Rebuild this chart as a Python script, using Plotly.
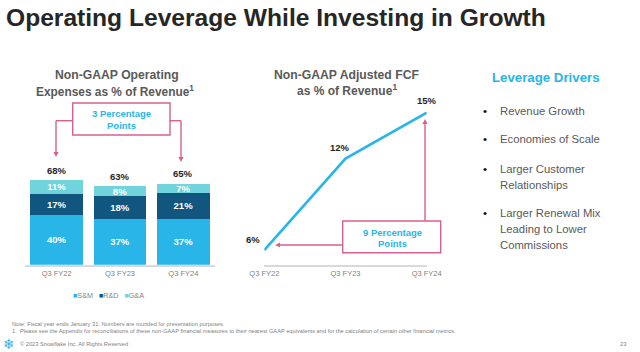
import plotly.graph_objects as go

quarters = ["Q3 FY22", "Q3 FY23", "Q3 FY24"]
snm = [40, 37, 37]
rnd = [17, 18, 21]
gna = [11, 8, 7]
opex_totals = [68, 63, 65]
fcf = [6, 12, 15]
drivers = [
    ("Revenue Growth", 111, True), ("Economies of Scale", 139.5, True),
    ("Larger Customer", 168.5, True), ("Relationships", 185, False),
    ("Larger Renewal Mix", 213, True), ("Leading to Lower", 229, False), ("Commissions", 245, False),
]

W, H = 640, 352
FONT = "Liberation Sans"
PINK = "#d6608f"
SKY = "#29b5e8"
NAVY = "#11567f"
TEAL = "#71d3dc"
GREY = "#595959"

def px(x): return x / W
def py(y): return 1 - y / H

fig = go.Figure()
for name, vals, col in [("S&M", snm, SKY), ("R&D", rnd, NAVY), ("G&A", gna, TEAL)]:
    fig.add_trace(go.Bar(x=quarters, y=vals, name=name, marker=dict(color=col, line=dict(width=0)),
                         text=[f"{v}%" for v in vals], textposition="inside", insidetextanchor="middle",
                         textangle=0, constraintext="none",
                         insidetextfont=dict(family=FONT, size=9.5, color="white", weight="bold"),
                         hoverinfo="skip", xaxis="x", yaxis="y"))
fig.add_trace(go.Scatter(x=quarters, y=fcf, mode="lines", line=dict(color=SKY, width=2.6),
                         hoverinfo="skip", xaxis="x2", yaxis="y2", showlegend=False))

ann = []
def T(x, y, text, size, color=GREY, bold=False, align="center", family=FONT):
    anchor = {"center": "center", "left": "left", "right": "right"}[align]
    ann.append(dict(x=px(x), y=py(y), xref="paper", yref="paper", text=text, showarrow=False,
                    xanchor=anchor, yanchor="middle", align=align,
                    font=dict(family=family, size=size, color=color, weight="bold" if bold else "normal")))

T(3.5, 17, "Operating Leverage While Investing in Growth", 24.6, "#262626", True, "left")
T(116.7, 75, "Non-GAAP Operating", 12.2, GREY, True)
T(115, 91, "Expenses as % of Revenue<sup>1</sup>", 11.9, GREY, True)
T(346.5, 75, "Non-GAAP Adjusted FCF", 12.2, GREY, True)
T(346.5, 90, "as % of Revenue<sup>1</sup>", 12, GREY, True)
T(546, 78, "Leverage Drivers", 13.25, SKY, True)
for text, y, bullet in drivers:
    T(497.5, y, text, 11.3, GREY, False, "left")
    if bullet:
        T(485, y, "•", 11.5, "#111111", False)

T(121, 113.5, "3 Percentage", 9.5, SKY, True)
T(121, 125, "Points", 9.5, SKY, True)
T(392, 232, "9 Percentage", 9.5, SKY, True)
T(392, 243, "Points", 9.5, SKY, True)

for q, v in zip(quarters, opex_totals):
    ann.append(dict(x=q, y=v, xref="x", yref="y", text=f"{v}%", showarrow=False, yshift=10,
                    font=dict(family=FONT, size=9.5, color="#262626", weight="bold")))
for q, v, dx, dy in zip(quarters, fcf, (-11, -6, 0), (11, 11, 12)):
    ann.append(dict(x=q, y=v, xref="x2", yref="y2", text=f"{v}%", showarrow=False, xshift=dx, yshift=dy,
                    font=dict(family=FONT, size=9.5, color="#262626", weight="bold")))

T(70.5, 295, f"<span style='color:{SKY}'>■</span>S&amp;M&nbsp;&nbsp;&nbsp;<span style='color:{NAVY}'>■</span>R&amp;D&nbsp;&nbsp;&nbsp;"
             f"<span style='color:{TEAL}'>■</span>G&amp;A", 7.2, "#7f7f7f", False, "left")

T(10, 324, "Note: Fiscal year ends January 31. Numbers are rounded for presentation purposes.", 5.7, "#7f7f7f", False, "left")
T(10, 331, "1.  Please see the Appendix for reconciliations of these non-GAAP financial measures to their nearest GAAP "
           "equivalents and for the calculation of certain other financial metrics.", 5.7, "#7f7f7f", False, "left")
T(17.5, 344, "© 2023 Snowflake Inc. All Rights Reserved", 5.7, "#7f7f7f", False, "left")
T(628, 344, "23", 5.7, "#7f7f7f", False, "right")
T(9, 344, "❄", 14, SKY, False, "center", "DejaVu Sans")

shapes = []
def line(x0, y0, x1, y1):
    shapes.append(dict(type="line", xref="paper", yref="paper", x0=px(x0), y0=py(y0), x1=px(x1), y1=py(y1),
                       line=dict(color=PINK, width=1.4)))
def box(x0, y0, x1, y1):
    shapes.append(dict(type="rect", xref="paper", yref="paper", x0=px(x0), y0=py(y0), x1=px(x1), y1=py(y1),
                       line=dict(color=PINK, width=1.4), fillcolor="rgba(0,0,0,0)"))
def arrow(x0, y0, x1, y1):
    # straight connector plus a small filled head, horizontal or vertical
    L, S = 5, 2.6
    if x0 == x1:
        d = 1 if y1 > y0 else -1
        line(x0, y0, x1, y1 - d * L)
        pts = [(x1, y1), (x1 - S, y1 - d * L), (x1 + S, y1 - d * L)]
    else:
        d = 1 if x1 > x0 else -1
        line(x0, y0, x1 - d * L, y1)
        pts = [(x1, y1), (x1 - d * L, y1 - S), (x1 - d * L, y1 + S)]
    path = "M " + " L ".join(f"{px(a):.5f},{py(b):.5f}" for a, b in pts) + " Z"
    shapes.append(dict(type="path", xref="paper", yref="paper", path=path, fillcolor=PINK, line=dict(width=0)))

box(72.7, 103, 170, 135)
box(342.7, 221, 440.7, 252.7)
line(56, 120.7, 72.7, 120.7)
line(170, 120.7, 181, 120.7)
arrow(56, 120.7, 56, 157)
arrow(181, 120.7, 181, 162)
arrow(425, 221, 425, 119)
arrow(342.7, 245, 275, 245)

tick = dict(family=FONT, size=7.5, color="#7f7f7f")
fig.update_layout(
    width=W, height=H, margin=dict(l=0, r=0, t=0, b=0, autoexpand=False), barmode="stack", bargap=0.165,
    paper_bgcolor="white", plot_bgcolor="white", showlegend=False,
    annotations=ann, shapes=shapes,
    xaxis=dict(domain=[px(25), px(215)], anchor="y", type="category", categoryorder="array", categoryarray=quarters,
               range=[-0.5, 2.5], showgrid=False, zeroline=False, showline=True, linecolor="#d9d9d9", linewidth=1.5,
               ticks="", tickfont=tick, ticklabelstandoff=1),
    yaxis=dict(domain=[py(264.7), py(100)], anchor="x", range=[0, 132.3], showgrid=False, zeroline=False,
               showticklabels=False, ticks=""),
    xaxis2=dict(domain=[px(264.3), px(426.7)], anchor="y2", type="category", categoryorder="array", categoryarray=quarters,
                range=[0, 2], showgrid=False, zeroline=False, showline=True, linecolor="#d9d9d9", linewidth=1.5,
                ticks="", tickfont=tick, ticklabelstandoff=1),
    yaxis2=dict(domain=[py(264.7), py(100)], anchor="x2", range=[5.05, 15.83], showgrid=False, zeroline=False,
                showticklabels=False, ticks=""),
)
fig.write_html("out.html", config={"displayModeBar": False},
               post_script="document.body.style.margin='0';")
